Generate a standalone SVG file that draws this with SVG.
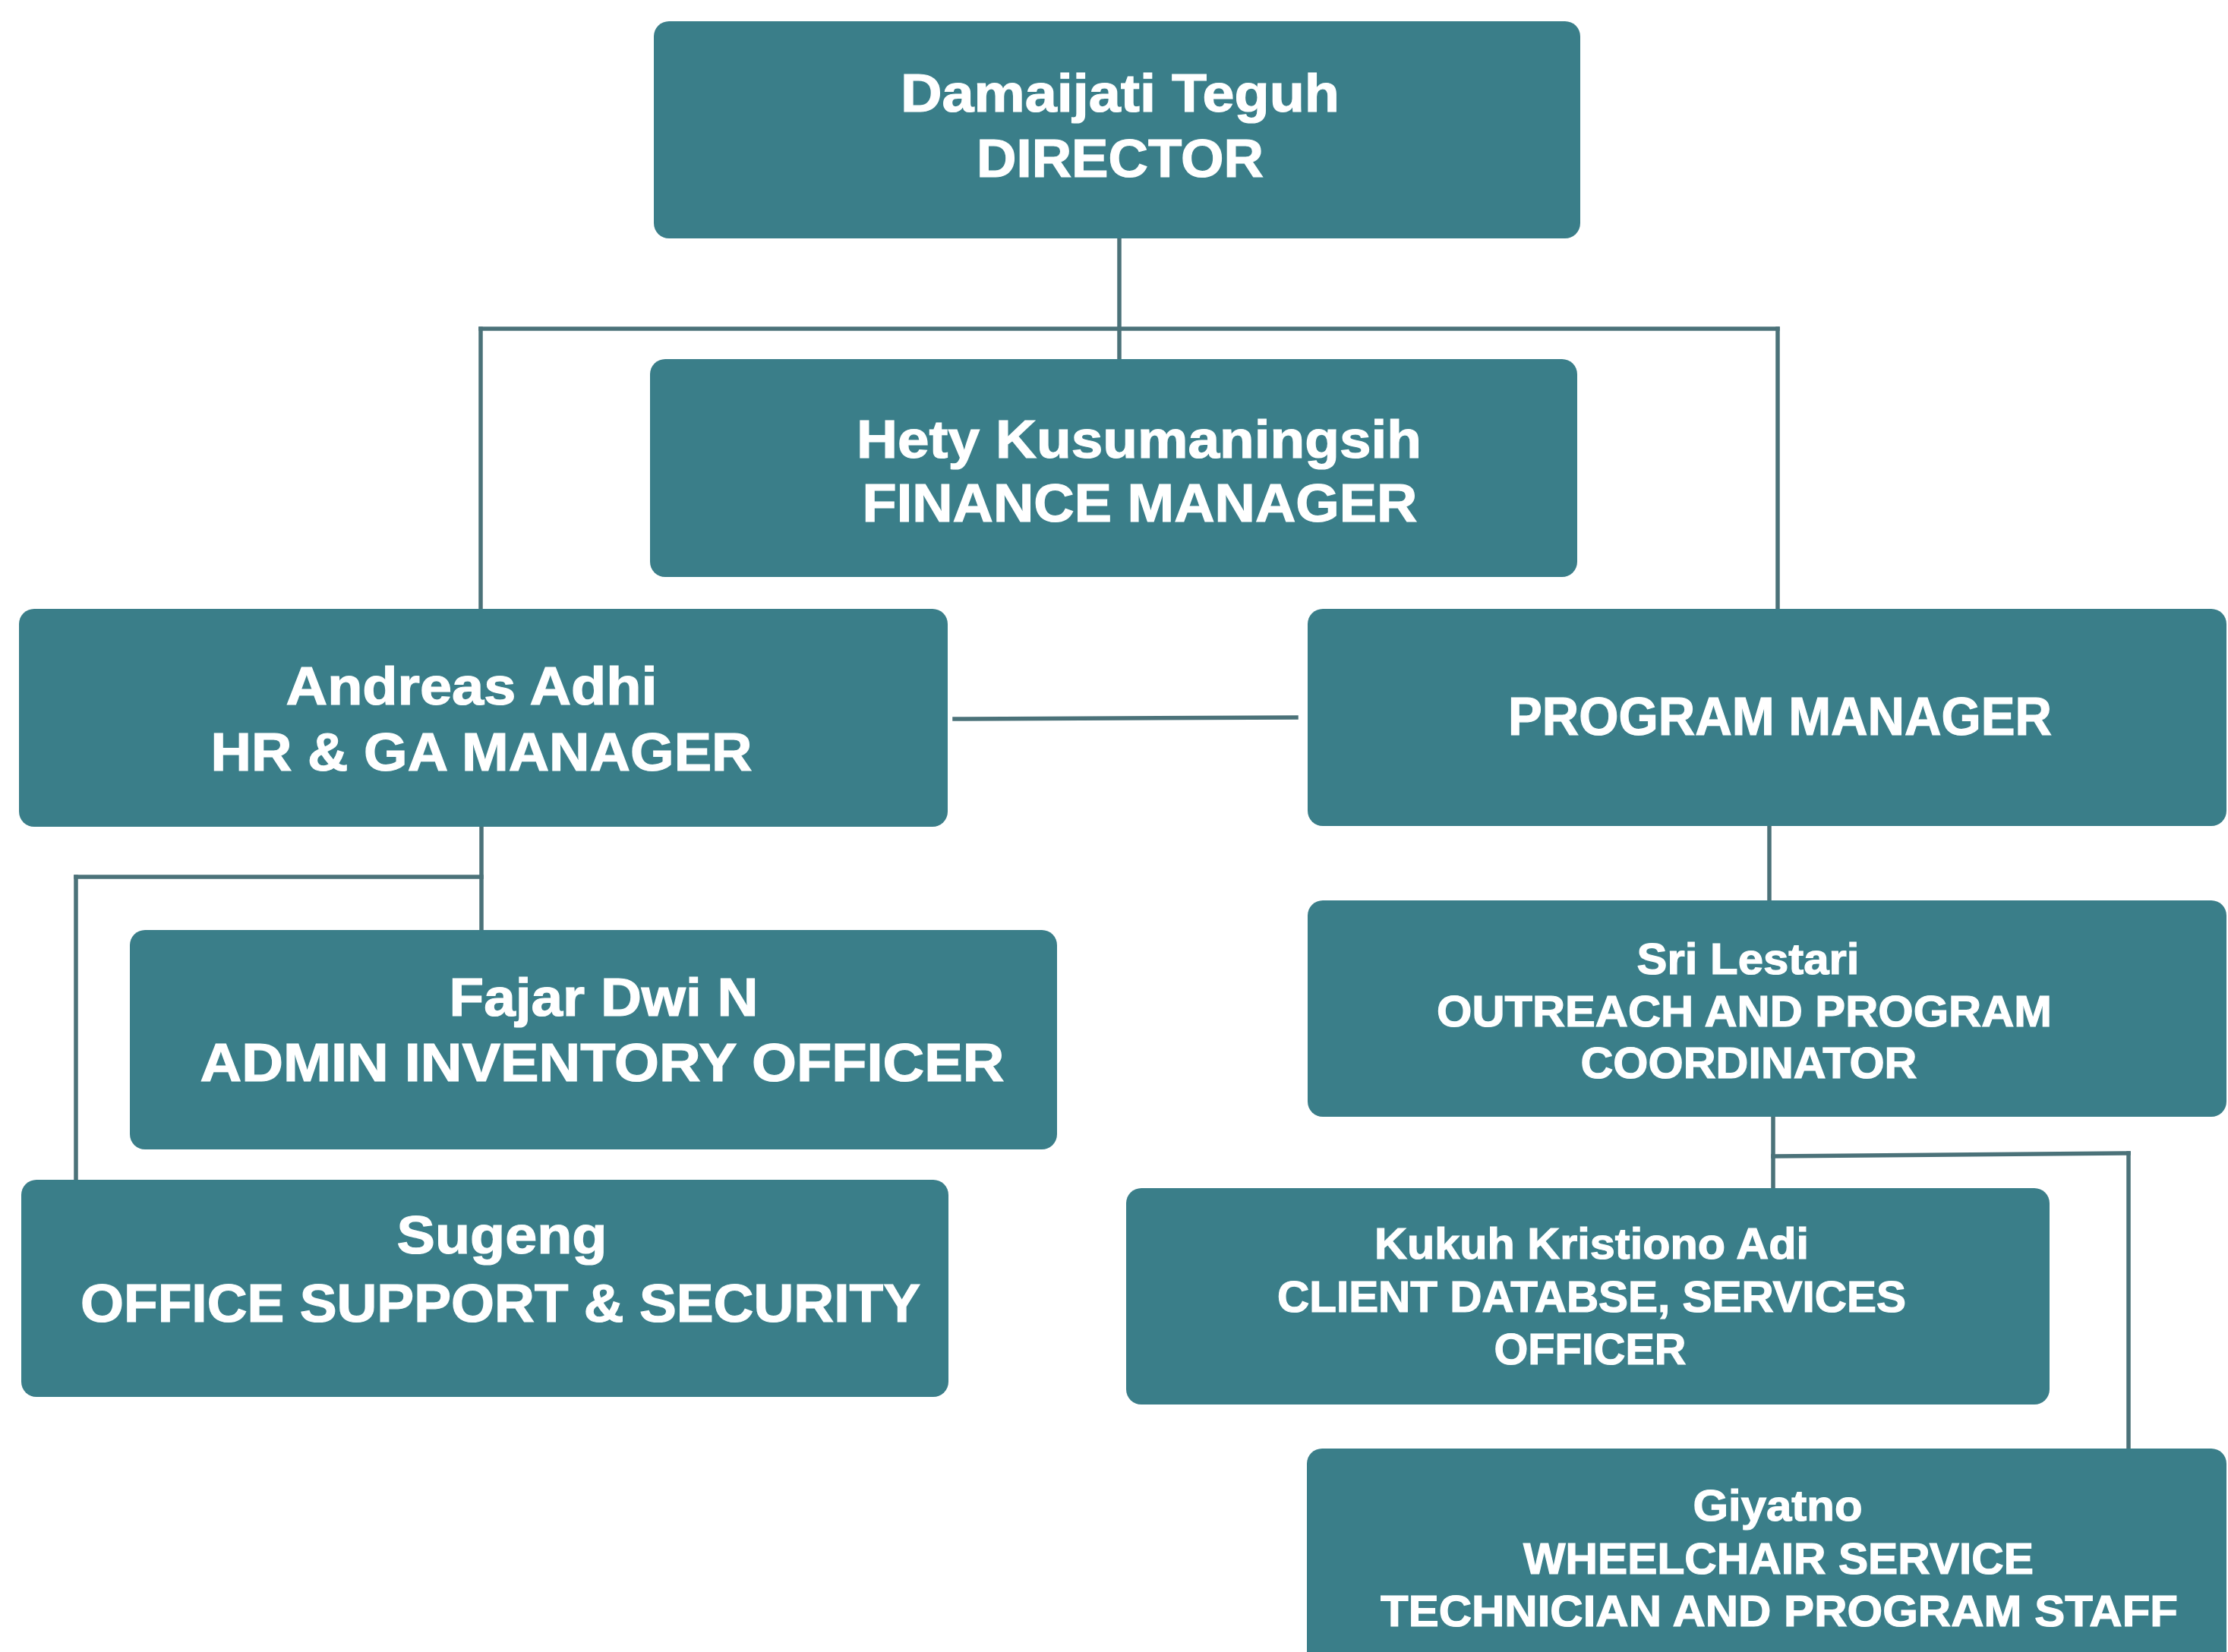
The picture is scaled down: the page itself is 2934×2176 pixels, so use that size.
<svg xmlns="http://www.w3.org/2000/svg" width="2934" height="2176" viewBox="0 0 2934 2176">
  <style>
    .box { fill: #3a7e89; }
    .conn { stroke: #4b7279; stroke-width: 5.5; fill: none; stroke-linecap: square; }
    .t { font-family: "Liberation Sans", Arial, sans-serif; font-weight: bold; fill: #ffffff; stroke: #ffffff; stroke-width: 1.2; text-anchor: middle; }
    .big { font-size: 70px; }
    .small { font-size: 58px; }
  </style>
  <rect x="0" y="0" width="2934" height="2176" fill="#ffffff"/>

  <g id="connectors">
    <line class="conn" x1="1474" y1="314" x2="1474" y2="473"/>
    <line class="conn" x1="633" y1="433" x2="2341" y2="433"/>
    <line class="conn" x1="633" y1="433" x2="633" y2="802"/>
    <line class="conn" x1="2341" y1="433" x2="2341" y2="802"/>
    <line class="conn" x1="1257" y1="947" x2="1707" y2="945"/>
    <line class="conn" x1="634" y1="1089" x2="634" y2="1225"/>
    <line class="conn" x1="100" y1="1155" x2="634" y2="1155"/>
    <line class="conn" x1="100" y1="1155" x2="100" y2="1554"/>
    <line class="conn" x1="2330" y1="1088" x2="2330" y2="1186"/>
    <line class="conn" x1="2335" y1="1471" x2="2335" y2="1565"/>
    <line class="conn" x1="2335" y1="1523" x2="2803" y2="1519"/>
    <line class="conn" x1="2803" y1="1519" x2="2803" y2="1908"/>
  </g>

  <g id="node-director">
    <rect class="box" x="861" y="28" width="1220" height="286" rx="20"/>
    <text class="t big" x="1475" y="147" textLength="578" lengthAdjust="spacingAndGlyphs">Damaijati Teguh</text>
    <text class="t big" x="1475" y="233" textLength="378" lengthAdjust="spacingAndGlyphs">DIRECTOR</text>
  </g>

  <g id="node-finance">
    <rect class="box" x="856" y="473" width="1221" height="287" rx="20"/>
    <text class="t big" x="1500" y="603" textLength="744" lengthAdjust="spacingAndGlyphs">Hety Kusumaningsih</text>
    <text class="t big" x="1501" y="687" textLength="731" lengthAdjust="spacingAndGlyphs">FINANCE MANAGER</text>
  </g>

  <g id="node-hr">
    <rect class="box" x="25" y="802" width="1223" height="287" rx="20"/>
    <text class="t big" x="621" y="928" textLength="489" lengthAdjust="spacingAndGlyphs">Andreas Adhi</text>
    <text class="t big" x="634" y="1015" textLength="713" lengthAdjust="spacingAndGlyphs">HR &amp; GA MANAGER</text>
  </g>

  <g id="node-program">
    <rect class="box" x="1722" y="802" width="1210" height="286" rx="20"/>
    <text class="t big" x="2344" y="968" textLength="716" lengthAdjust="spacingAndGlyphs">PROGRAM MANAGER</text>
  </g>

  <g id="node-fajar">
    <rect class="box" x="171" y="1225" width="1221" height="289" rx="20"/>
    <text class="t big" x="795" y="1338" textLength="407" lengthAdjust="spacingAndGlyphs">Fajar Dwi N</text>
    <text class="t big" x="793" y="1424" textLength="1059" lengthAdjust="spacingAndGlyphs">ADMIN INVENTORY OFFICER</text>
  </g>

  <g id="node-sugeng">
    <rect class="box" x="28" y="1554" width="1221" height="286" rx="20"/>
    <text class="t big" x="661" y="1651" textLength="277" lengthAdjust="spacingAndGlyphs">Sugeng</text>
    <text class="t big" x="659" y="1741" textLength="1106" lengthAdjust="spacingAndGlyphs">OFFICE SUPPORT &amp; SECURITY</text>
  </g>

  <g id="node-sri">
    <rect class="box" x="1722" y="1186" width="1210" height="285" rx="20"/>
    <text class="t small" x="2302" y="1283" textLength="293" lengthAdjust="spacingAndGlyphs">Sri Lestari</text>
    <text class="t small" x="2297" y="1352" textLength="810" lengthAdjust="spacingAndGlyphs">OUTREACH AND PROGRAM</text>
    <text class="t small" x="2303" y="1420" textLength="443" lengthAdjust="spacingAndGlyphs">COORDINATOR</text>
  </g>

  <g id="node-kukuh">
    <rect class="box" x="1483" y="1565" width="1216" height="285" rx="20"/>
    <text class="t small" x="2096" y="1658" textLength="572" lengthAdjust="spacingAndGlyphs">Kukuh Kristiono Adi</text>
    <text class="t small" x="2096" y="1728" textLength="828" lengthAdjust="spacingAndGlyphs">CLIENT DATABSE, SERVICES</text>
    <text class="t small" x="2094" y="1797" textLength="253" lengthAdjust="spacingAndGlyphs">OFFICER</text>
  </g>

  <g id="node-giyatno">
    <rect class="box" x="1721" y="1908" width="1211" height="300" rx="20"/>
    <text class="t small" x="2341" y="2003" textLength="223" lengthAdjust="spacingAndGlyphs">Giyatno</text>
    <text class="t small" x="2342" y="2073" textLength="672" lengthAdjust="spacingAndGlyphs">WHEELCHAIR SERVICE</text>
    <text class="t small" x="2343" y="2142" textLength="1050" lengthAdjust="spacingAndGlyphs">TECHNICIAN AND PROGRAM STAFF</text>
  </g>
</svg>
